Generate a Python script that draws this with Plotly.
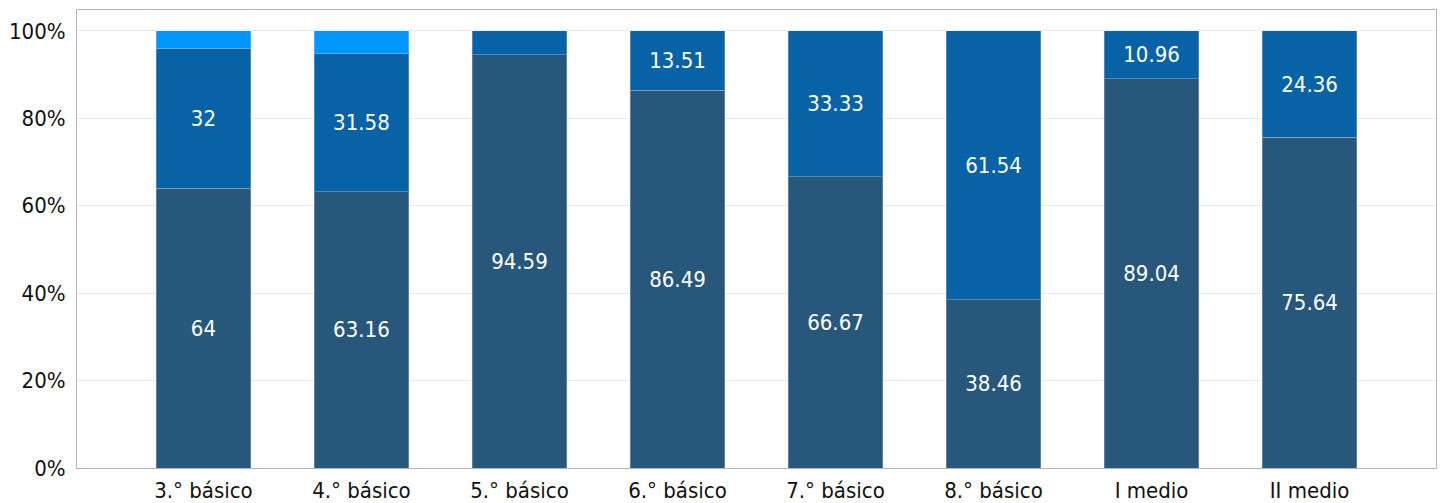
import plotly.graph_objects as go

categories = ["3.° básico", "4.° básico", "5.° básico", "6.° básico", "7.° básico", "8.° básico", "I medio", "II medio"]
serie_a = [64, 63.16, 94.59, 86.49, 66.67, 38.46, 89.04, 75.64]
serie_b = [32, 31.58, 5.41, 13.51, 33.33, 61.54, 10.96, 24.36]
serie_c = [4, 5.26, 0, 0, 0, 0, 0, 0]
labels_a = ["64", "63.16", "94.59", "86.49", "66.67", "38.46", "89.04", "75.64"]
labels_b = ["32", "31.58", "", "13.51", "33.33", "61.54", "10.96", "24.36"]
labels_c = ["", "", "", "", "", "", "", ""]
y_ticks = [0, 20, 40, 60, 80, 100]
y_ticktext = ["0%", "20%", "40%", "60%", "80%", "100%"]

FONT = "DejaVu Sans Condensed, DejaVu Sans"
colors = ["#27577a", "#0863a6", "#0096ff"]
fig = go.Figure()
for vals, labs, col in [(serie_a, labels_a, colors[0]), (serie_b, labels_b, colors[1]), (serie_c, labels_c, colors[2])]:
    fig.add_trace(go.Bar(
        x=list(range(len(categories))), y=vals, text=labs, textposition="inside",
        insidetextanchor="middle", textangle=0,
        textfont=dict(color="white", size=22, family=FONT),
        marker=dict(color=col, line=dict(color="rgba(255,255,255,0.25)", width=1)),
        width=0.6, hoverinfo="skip", constraintext="none",
    ))

fig.update_layout(
    barmode="stack", width=1445, height=503,
    margin=dict(l=69, r=17, t=2, b=43, autoexpand=False),
    paper_bgcolor="white", plot_bgcolor="white", showlegend=False,
    font=dict(family=FONT, size=22, color="#111"),
)
fig.update_xaxes(
    tickmode="array", tickvals=list(range(len(categories))), ticktext=categories,
    range=[-0.8, 7.8], showgrid=False, showline=True, linecolor="#b5b5b5",
    mirror=True, ticks="", tickfont=dict(size=22, family=FONT), automargin=False,
    ticklabelstandoff=3,
)
fig.update_yaxes(
    range=[0, 104.8], tickmode="array", tickvals=y_ticks, ticktext=y_ticktext,
    showgrid=True, gridcolor="#e8e8e8", showline=True, linecolor="#b5b5b5",
    mirror=True, ticks="", zeroline=False, tickfont=dict(size=22, family=FONT),
    automargin=False, ticklabelstandoff=6,
)
fig.write_html("out.html")
